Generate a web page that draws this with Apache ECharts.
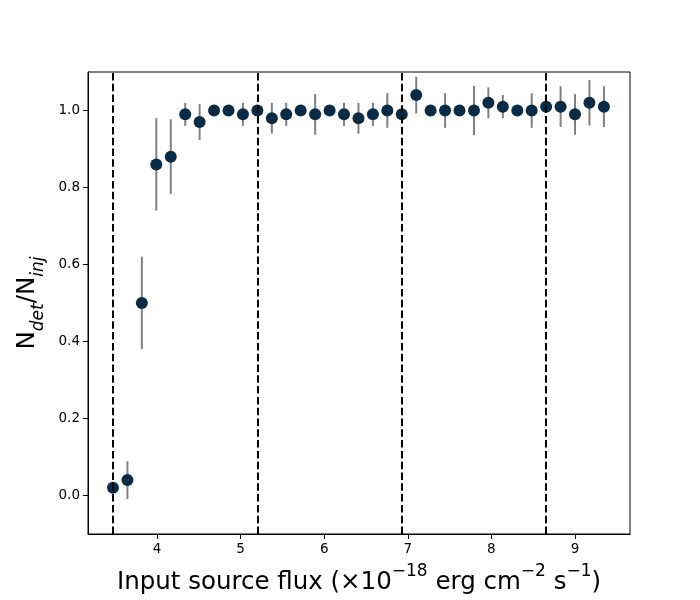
<!DOCTYPE html>
<html>
<head>
<meta charset="utf-8">
<script src="https://cdn.jsdelivr.net/npm/echarts@6/dist/echarts.min.js"></script>
<style>html,body{margin:0;padding:0;background:#fff;}#c{width:700px;height:600px;}</style>
</head>
<body>
<div id="c"></div>
<script>
var fluxBins = [3.474,3.647,3.819,3.992,4.165,4.338,4.510,4.683,4.856,5.028,5.201,5.374,5.546,5.719,5.892,6.065,6.237,6.410,6.583,6.755,6.928,7.101,7.273,7.446,7.619,7.792,7.964,8.137,8.310,8.482,8.655,8.828,9.000,9.173,9.346];
var ratio = [0.02,0.04,0.50,0.86,0.88,0.99,0.97,1.00,1.00,0.99,1.00,0.98,0.99,1.00,0.99,1.00,0.99,0.98,0.99,1.00,0.99,1.04,1.00,1.00,1.00,1.00,1.02,1.01,1.00,1.00,1.01,1.01,0.99,1.02,1.01];
var ratioErr = [0,0.049,0.12,0.12,0.097,0.03,0.047,0,0,0.03,0,0.04,0.03,0,0.053,0,0.03,0.04,0.03,0.045,0,0.048,0,0.045,0,0.064,0.04,0.03,0,0.045,0,0.053,0.053,0.059,0.053];
var limitLines = [3.474,5.196,6.930,8.653];
var xTicks = [4,5,6,7,8,9];
var yTicks = [0.0,0.2,0.4,0.6,0.8,1.0];

var points = fluxBins.map(function(x,i){return [x, ratio[i]];});
var errs = fluxBins.map(function(x,i){return [x, ratio[i]-ratioErr[i], ratio[i]+ratioErr[i]];});

var chart = echarts.init(document.getElementById('c'));
var font = 'DejaVu Sans';
chart.setOption({
  animation:false,
  backgroundColor:'#fff',
  grid:{left:88,right:70,top:72,bottom:66,show:true,borderColor:'#000',borderWidth:1,backgroundColor:'transparent',outerBoundsMode:'none',containLabel:false},
  xAxis:{
    type:'value',min:3.175,max:9.658,
    axisLine:{show:true,onZero:false,lineStyle:{color:'#000',width:1}},
    axisTick:{show:true,length:5,customValues:xTicks,lineStyle:{color:'#000'}},
    axisLabel:{customValues:xTicks,color:'#000',fontFamily:font,fontSize:13.5,margin:8,formatter:function(v){return String(Math.round(v));}},
    splitLine:{show:false},
    name:'{n|Input source flux (×10}{s|−18}{n| erg cm}{s|−2}{n| s}{s|−1}{n|)}',
    nameLocation:'middle',nameGap:29,
    nameTextStyle:{rich:{
      n:{fontFamily:font,fontSize:24.5,color:'#000',lineHeight:32,verticalAlign:'bottom'},
      s:{fontFamily:font,fontSize:17,color:'#000',lineHeight:32,verticalAlign:'top'}
    }}
  },
  yAxis:{
    type:'value',min:-0.1,max:1.1,
    axisLine:{show:true,onZero:false,lineStyle:{color:'#000',width:1}},
    axisTick:{show:true,length:5,customValues:yTicks,lineStyle:{color:'#000'}},
    axisLabel:{customValues:yTicks,color:'#000',fontFamily:font,fontSize:13.5,margin:8,formatter:function(v){return v.toFixed(1);}},
    splitLine:{show:false},
    name:'{n|N}{b|det}{n|/N}{b|inj}',
    nameLocation:'middle',nameGap:41,nameRotate:90,
    nameTextStyle:{rich:{
      n:{fontFamily:font,fontSize:24.5,color:'#000',lineHeight:32,verticalAlign:'top'},
      b:{fontFamily:font,fontSize:17,fontStyle:'italic',color:'#000',lineHeight:32,verticalAlign:'bottom'}
    }}
  },
  series:[
    {
      type:'custom',
      data:errs,
      z:2,
      renderItem:function(params,api){
        var x=api.value(0),lo=api.value(1),hi=api.value(2);
        if(hi-lo<=0) return null;
        var p1=api.coord([x,lo]),p2=api.coord([x,hi]);
        return {type:'line',shape:{x1:p1[0],y1:p1[1],x2:p2[0],y2:p2[1]},style:{stroke:'#808080',lineWidth:2}};
      },
      encode:{x:0,y:[1,2]},
      silent:true
    },
    {
      type:'scatter',
      data:points,
      symbol:'circle',
      symbolSize:12,
      z:3,
      itemStyle:{color:'#0a2b45',opacity:1},
      markLine:{
        silent:true,symbol:['none','none'],label:{show:false},
        lineStyle:{color:'#000',type:[7.5,3.3],width:2},
        data:limitLines.map(function(v){return {xAxis:v};}),
        animation:false
      }
    }
  ]
});
</script>
</body>
</html>
